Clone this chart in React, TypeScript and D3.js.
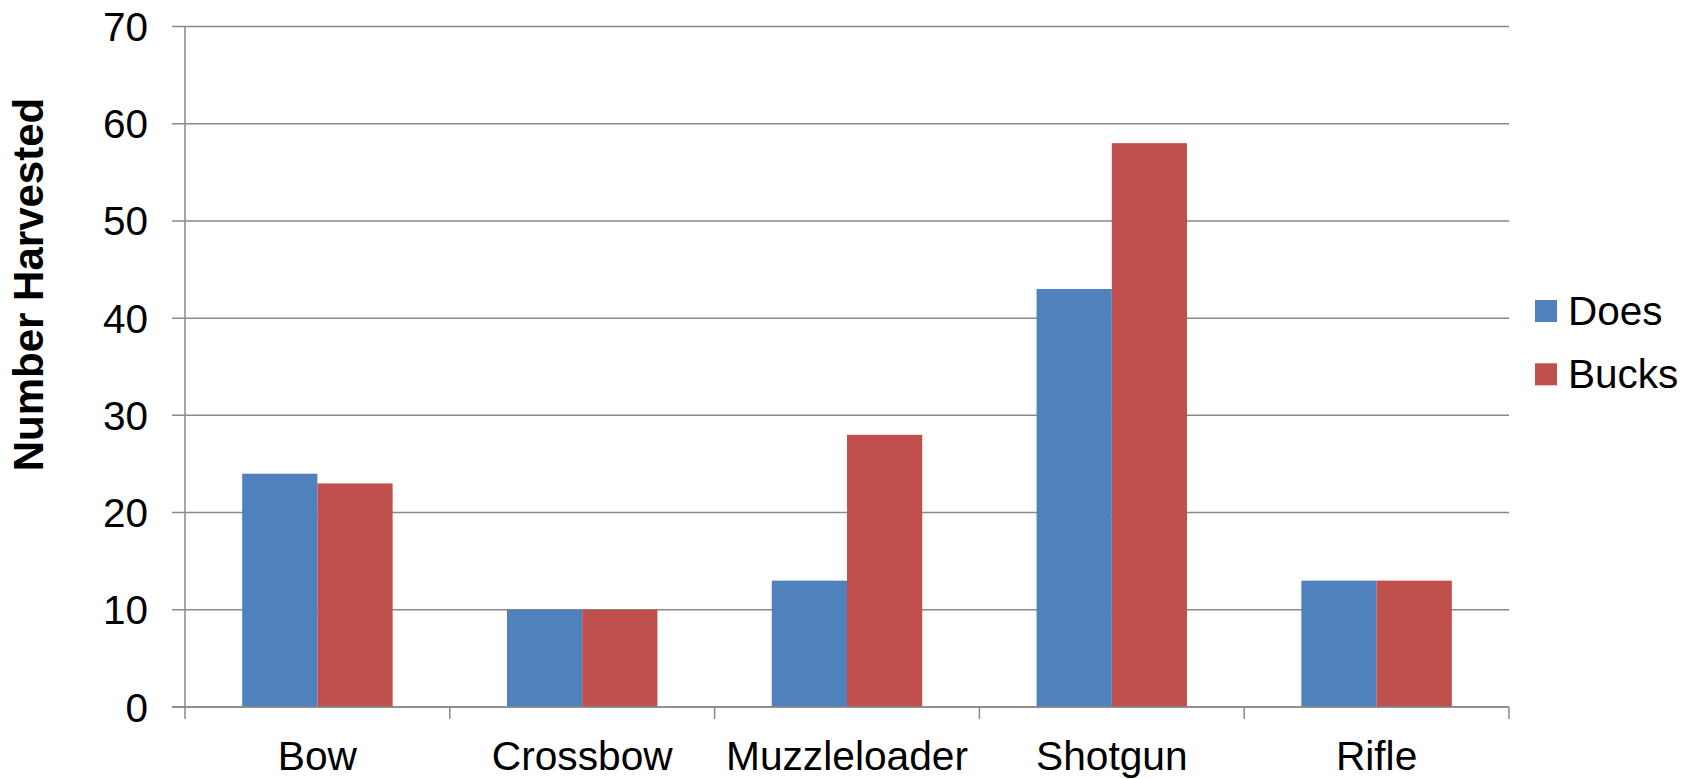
import React from "react";
import * as d3 from "d3";

const categories = ["Bow", "Crossbow", "Muzzleloader", "Shotgun", "Rifle"];
const seriesNames = ["Does", "Bucks"];
const does = [24, 10, 13, 43, 13];
const bucks = [23, 10, 28, 58, 13];
const yTicks = [0, 10, 20, 30, 40, 50, 60, 70];
const colors = ["#4F81BD", "#C0504D"];

const W = 1700;
const H = 779;
const left = 185;
const right = 1509;
const top = 26.5;
const bottom = 707;
const font = "'Liberation Sans', Arial, sans-serif";

export default function App() {
  const x = d3.scaleBand<string>().domain(categories).range([left, right]).padding(0);
  const y = d3.scaleLinear().domain([0, 70]).range([bottom, top]);
  const bw = x.bandwidth();
  const inner = d3.scaleBand<string>().domain(seriesNames).range([0, bw]).paddingInner(0).paddingOuter(0.76);
  const values = [does, bucks];
  const grid = "#898989";
  const boundaries = categories.map((c) => x(c)!).concat([right]);

  return (
    <svg width={W} height={H} style={{ position: "absolute", left: 0, top: 0, background: "#fff" }}>
      {yTicks.map((t) => (
        <g key={t}>
          <line x1={left - 13} x2={right} y1={y(t)} y2={y(t)} stroke={grid} strokeWidth={1.5} />
          <text x={148} y={y(t) + 14.5} textAnchor="end" fontFamily={font} fontSize={40.5} fill="#000">
            {t}
          </text>
        </g>
      ))}
      {categories.map((c, i) =>
        seriesNames.map((s, j) => (
          <rect
            key={c + s}
            x={x(c)! + inner(s)!}
            y={y(values[j][i])}
            width={inner.bandwidth()}
            height={bottom - y(values[j][i])}
            fill={colors[j]}
          />
        ))
      )}
      <line x1={left} x2={left} y1={top} y2={bottom} stroke={grid} strokeWidth={1.5} />
      <line x1={left - 13} x2={right} y1={bottom} y2={bottom} stroke={grid} strokeWidth={1.5} />
      {boundaries.map((b, i) => (
        <line key={i} x1={b} x2={b} y1={bottom} y2={bottom + 12} stroke={grid} strokeWidth={1.5} />
      ))}
      {categories.map((c) => (
        <text key={c} x={x(c)! + bw / 2} y={770} textAnchor="middle" fontFamily={font} fontSize={40.7} fill="#000">
          {c}
        </text>
      ))}
      <text
        transform={`translate(43,284.5) rotate(-90)`}
        textAnchor="middle"
        fontFamily={font}
        fontSize={42}
        fontWeight="bold"
        fill="#000"
      >
        Number Harvested
      </text>
      {seriesNames.map((s, j) => (
        <g key={s}>
          <rect x={1535} y={300 + j * 63.3} width={22} height={22} fill={colors[j]} />
          <text x={1568} y={325 + j * 63.3} fontFamily={font} fontSize={40.5} fill="#000">
            {s}
          </text>
        </g>
      ))}
    </svg>
  );
}
